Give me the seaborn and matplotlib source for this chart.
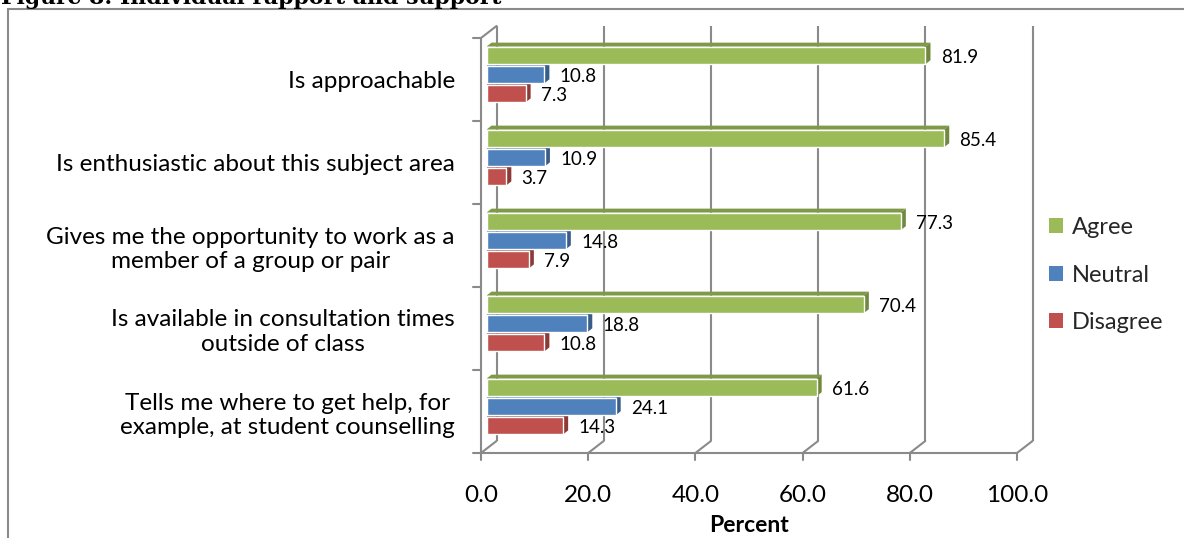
import matplotlib
matplotlib.use("Agg")
import numpy as np
import pandas as pd
import matplotlib.pyplot as plt
import matplotlib.transforms as mtransforms
from matplotlib.patches import Polygon, Patch
import seaborn as sns

# ---------------- data ----------------
statements = [
    "Is approachable",
    "Is enthusiastic about this subject area",
    "Gives me the opportunity to work as a\nmember of a group or pair",
    "Is available in consultation times\noutside of class",
    "Tells me where to get help, for\nexample, at student counselling",
]
agree = [81.9, 85.4, 77.3, 70.4, 61.6]
neutral = [10.8, 10.9, 14.8, 18.8, 24.1]
disagree = [7.3, 3.7, 7.9, 10.8, 14.3]
responses = ["Agree", "Neutral", "Disagree"]
x_ticks = [0, 20, 40, 60, 80, 100]
x_tick_labels = ["0.0", "20.0", "40.0", "60.0", "80.0", "100.0"]
title_text = "Figure 8: Individual rapport and support"
x_label = "Percent"

df = pd.DataFrame({
    "Statement": statements * 3,
    "Response": ["Agree"] * 5 + ["Neutral"] * 5 + ["Disagree"] * 5,
    "Percent": agree + neutral + disagree,
})

# ---------------- style ----------------
front_cols = {"Agree": "#9BBB59", "Neutral": "#4F81BD", "Disagree": "#C0504D"}
side_cols = {"Agree": "#71893F", "Neutral": "#385D8A", "Disagree": "#8C3A38"}
top_cols = {"Agree": "#7E9A48", "Neutral": "#42699A", "Disagree": "#9C403D"}
grid_col = "#8A8A8A"

sns.set_style("white")
plt.rcParams["font.family"] = ["Lato", "DejaVu Sans"]

W, H = 1184, 538
fig = plt.figure(figsize=(W / 100, H / 100), dpi=100)
fig.patch.set_facecolor("white")

# plot area (pixel box of the bars' plane)
L, R, T, B = 486.5, 1022.5, 33.0, 448.0
ax = fig.add_axes([L / W, (H - B) / H, (R - L) / W, (B - T) / H], zorder=2)
ax.patch.set_visible(False)

sns.barplot(data=df, y="Statement", x="Percent", hue="Response",
            order=statements, hue_order=responses, palette=front_cols,
            orient="h", width=0.69, gap=0.08, saturation=1,
            errorbar=None, legend=False, ax=ax)
ax.set_xlim(0, 100)
ax.set_ylim(4.5, -0.5)
for s in ax.spines.values():
    s.set_visible(False)
ax.grid(False)

# 3-D faces of the bars
ux = 100.0 / (R - L)
uy = 5.0 / (B - T)
dx, dy = 5 * ux, 4 * uy
for resp, cont in zip(responses, ax.containers):
    for p in cont.patches:
        p.set_zorder(3)
        x0, y0 = p.get_x(), p.get_y()
        w, h = p.get_width(), p.get_height()
        top = Polygon([(x0, y0), (x0 + dx, y0 - dy), (x0 + w + dx, y0 - dy), (x0 + w, y0)],
                      closed=True, facecolor=top_cols[resp], edgecolor="none", zorder=2.5)
        side = Polygon([(x0 + w, y0), (x0 + w + dx, y0 - dy), (x0 + w + dx, y0 + h - dy), (x0 + w, y0 + h)],
                       closed=True, facecolor=side_cols[resp], edgecolor="none", zorder=2.6)
        ax.add_patch(top)
        ax.add_patch(side)
    anns = ax.bar_label(cont, fmt="%.1f", padding=11, fontsize=13.5, color="black")
    for a in anns:
        xo, yo = a.xyann
        a.xyann = (xo, yo - 1.5)

# tick labels
ax.set_yticks(range(len(statements)))
ax.set_yticklabels(statements)
ax.set_xticks(x_ticks)
ax.set_xticklabels(x_tick_labels)
ax.tick_params(axis="y", length=0, pad=22.7, labelsize=17.5, labelcolor="black")
ax.tick_params(axis="x", length=0, pad=34.5, labelsize=17.5, labelcolor="black")
off_y = mtransforms.ScaledTranslation(0, -5 / 100, fig.dpi_scale_trans)
off_x = mtransforms.ScaledTranslation(-5.5 / 100, 0, fig.dpi_scale_trans)
for lbl in ax.get_yticklabels():
    lbl.set_multialignment("center")
    lbl.set_linespacing(1.2)
    lbl.set_transform(lbl.get_transform() + off_y)
for lbl in ax.get_xticklabels():
    lbl.set_va("center")
    lbl.set_transform(lbl.get_transform() + off_x)

ax.set_xlabel(x_label, fontsize=16.5, fontweight="bold", color="black", va="center")
ax.set_ylabel("")
ax.xaxis.set_label_coords((749 - L) / (R - L), -(526 - B) / (B - T))

# ---------------- 3-D frame (walls, floor, axes) ----------------
deco = fig.add_axes([0, 0, 1, 1], zorder=0)
deco.set_xlim(0, W)
deco.set_ylim(H, 0)
deco.axis("off")

fig.canvas.draw()


def px(x, y):
    X, Y = ax.transData.transform((x, y))
    return X, H - Y


lw = 1.5
fx_off, fy_off = -5.5, 5.0
bx_off, by_off = 10.0, -7.0
ytop_data, ybot_data = -0.5, 4.5
_, ytop = px(0, ytop_data)
_, ybot = px(0, ybot_data)
for v in x_ticks:
    xv, _ = px(v, 0)
    xb, xf = xv + bx_off, xv + fx_off
    deco.plot([xb, xb], [ytop + by_off, ybot + by_off], color=grid_col, lw=lw, solid_capstyle="butt")
    deco.plot([xb, xf], [ybot + by_off, ybot + fy_off], color=grid_col, lw=lw)
    deco.plot([xf, xf], [ybot + fy_off, ybot + fy_off + 7], color=grid_col, lw=lw)
x0p, _ = px(0, 0)
x100p, _ = px(100, 0)
deco.plot([x0p + fx_off, x100p + fx_off], [ybot + fy_off, ybot + fy_off], color=grid_col, lw=lw)
deco.plot([x0p + fx_off, x0p + fx_off], [ytop + fy_off, ybot + fy_off], color=grid_col, lw=lw)
deco.plot([x0p + fx_off, x0p + bx_off], [ytop + fy_off, ytop + by_off], color=grid_col, lw=lw)
for b in np.arange(-0.5, len(statements), 1.0):
    _, yb = px(0, b)
    deco.plot([x0p + fx_off - 8, x0p + fx_off], [yb + fy_off, yb + fy_off], color=grid_col, lw=lw)

# chart border
deco.plot([8, W], [9, 9], color=grid_col, lw=1.5)
deco.plot([8, 8], [9, H], color=grid_col, lw=1.5)

# legend
handles = [Patch(facecolor=front_cols[r], edgecolor="none") for r in responses]
fs_px = 17 * 100 / 72
fig.legend(handles, responses, loc="center left",
           bbox_to_anchor=(1049 / W, (H - 275) / H), frameon=False,
           fontsize=17, borderpad=0, borderaxespad=0,
           handlelength=14 / fs_px, handleheight=14 / fs_px,
           handletextpad=9 / fs_px, labelspacing=1.12)

# title (cut off at the top, as in the source)
fig.text(1 / W, (H - 4) / H, title_text, ha="left", va="baseline",
         fontsize=15.8, fontweight="bold", family=["DejaVu Serif"], color="black")

fig.savefig("out.png", dpi=100)
